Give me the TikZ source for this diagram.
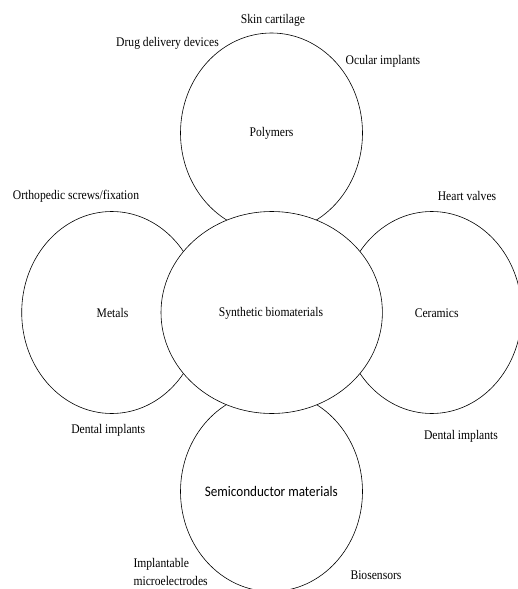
\documentclass[tikz,border=0pt]{standalone}
\usepackage{fontspec}
\setmainfont[FakeStretch=0.88]{Liberation Serif}
\newfontfamily\semifont[FakeStretch=0.9]{Carlito}
\begin{document}
\begin{tikzpicture}[x=1pt,y=-1pt,
  bubble/.style={draw=black,line width=0.6pt,fill=white},
  lbl/.style={inner sep=0pt,font=\fontsize{13.2}{15}\selectfont}]
\useasboundingbox (0,0) rectangle (518,589);
\clip (0,0) rectangle (518,589);
\fill[white] (0,0) rectangle (518,589);
% satellites
\draw[bubble] (271.5,133) ellipse [x radius=91,y radius=100];
\draw[bubble] (111.7,312.5) ellipse [x radius=90,y radius=101];
\draw[bubble] (431.7,312.5) ellipse [x radius=90,y radius=101];
\draw[bubble] (271.5,491.5) ellipse [x radius=91,y radius=100];
% centre
\draw[bubble] (271.7,312.5) ellipse [x radius=110.7,y radius=101];
% labels inside
\node[lbl] (poly) at (271.5,133) {Polymers};
\node[lbl] (met) at (112.5,312.7) {Metals};
\node[lbl] (syn) at (271,313) {Synthetic biomaterials};
\node[lbl] (cer) at (436.7,313) {Ceramics};
\node[inner sep=0pt,font=\semifont\fontsize{14.6}{16}\selectfont] (semi) at (271.3,491.7) {Semiconductor materials};
% outer labels
\node[lbl] (skin) at (273,20) {Skin cartilage};
\node[lbl] (drug) at (167.5,43) {Drug delivery devices};
\node[lbl] (ocu) at (383,61) {Ocular implants};
\node[lbl] (orth) at (76,196) {Orthopedic screws/fixation};
\node[lbl] (heart) at (467,196) {Heart valves};
\node[lbl] (dentl) at (108.3,430.7) {Dental implants};
\node[lbl] (dentr) at (461,436.7) {Dental implants};
\node[lbl,anchor=west] (impl1) at (133.3,564) {Implantable};
\node[lbl,anchor=west] (impl2) at (133.3,580.5) {microelectrodes};
\node[lbl] (bio) at (376,575) {Biosensors};
\end{tikzpicture}
\end{document}
